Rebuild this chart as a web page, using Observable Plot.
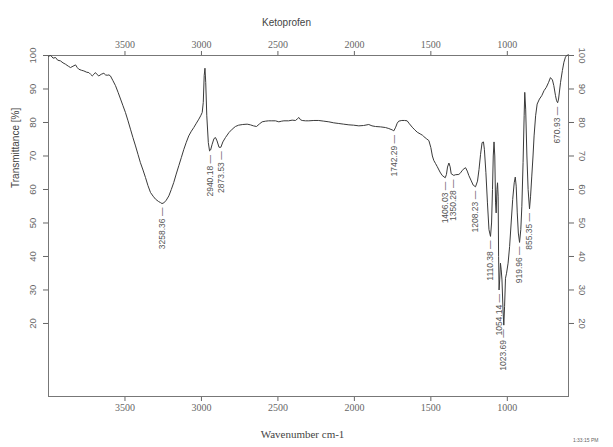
<!DOCTYPE html>
<html><head><meta charset="utf-8">
<script src="https://cdn.jsdelivr.net/npm/d3@7"></script>
<script src="https://cdn.jsdelivr.net/npm/@observablehq/plot@0.6"></script>
<style>body{margin:0;background:#fff} #chart{width:613px;height:447px}</style>
</head><body><div id="chart"></div>
<script>
const wavenumber = [4000,3985,3970,3954,3940,3922,3905,3889,3870,3856,3840,3823,3812,3802,3785,3769,3750,3736,3725,3714,3703,3693,3682,3671,3655,3638,3627,3616,3605,3595,3580,3562,3545,3529,3513,3497,3480,3464,3448,3431,3415,3399,3382,3366,3350,3333,3316,3300,3280,3268,3258,3246,3230,3213,3197,3181,3165,3148,3131,3115,3099,3083,3066,3050,3033,3017,3005,2995,2988,2982,2977,2972,2965,2955,2947,2940,2930,2918,2908,2898,2885,2873,2860,2843,2820,2799,2778,2757,2730,2701,2680,2660,2640,2620,2603,2580,2561,2540,2516,2494,2475,2461,2430,2407,2385,2370,2363,2352,2341,2320,2298,2265,2233,2200,2167,2135,2102,2070,2036,2005,1971,1940,1906,1885,1862,1830,1797,1775,1753,1742,1730,1720,1710,1690,1672,1655,1640,1622,1605,1589,1570,1555,1546,1530,1513,1500,1490,1481,1470,1459,1440,1426,1406,1398,1391,1382,1374,1367,1350,1340,1317,1305,1295,1283,1273,1262,1252,1238,1223,1208,1195,1185,1175,1165,1156,1150,1140,1130,1120,1110,1103,1097,1092,1087,1082,1077,1073,1068,1064,1060,1057,1054,1050,1045,1040,1035,1028,1023,1018,1012,1005,995,985,975,965,955,948,942,935,928,920,912,905,897,890,886,880,872,864,855,848,840,832,825,815,805,790,775,760,745,730,718,705,696,685,678,671,665,652,640,630,620,612,600];
const transmittance = [99.8,100,99.2,99.4,98.6,98.4,97.8,97.4,96.8,96.4,96.8,97.2,96.4,95.9,95.6,95.4,95.0,94.9,94.4,93.9,94.4,94.9,94.3,93.9,94.4,94.7,94.2,94.1,94.2,93.9,92.6,91,89,87,85,83,80.5,78,75.5,73,70.5,68,65.8,63.6,61.2,59.1,58,57.1,56.4,56.1,55.8,56.0,56.8,58.1,60,62.1,64.6,67.1,69.6,72,74.1,76,77.4,78.5,79.8,81,82,83,86,94,96.2,92,82,74,71.5,71.8,73.5,75.2,75.5,74.5,72.6,72.6,74.2,75.5,77,78,78.8,79.2,79.4,79.5,79.3,79,78.8,79.6,80.2,80.4,80.5,80.5,80.5,80.2,80.4,80.5,80.5,80.7,80.6,81.2,81.5,80.8,80.6,80.5,80.5,80.6,80.6,80.4,80.2,79.9,79.7,79.5,79.3,79.2,79.0,79.1,79.4,79.0,78.8,78.7,78.5,78.2,77.8,77.5,78.6,79.8,80.4,80.6,80.6,80.5,79.6,78.6,77.8,77.1,76.6,76.2,75.8,75.2,74.6,72.5,70,68.7,67.8,66.9,65.2,64.2,63.5,64.5,66.7,67.9,66.8,64.7,64.2,64.4,64.5,65,65.7,66.2,66.5,65.5,64.2,62.8,61.3,60.8,62.5,66,70.5,74,74.2,72,65,56,48,46,50,60,70,74.2,70,56,53,60,62,58,40,30,33,38,36,33,24,19.5,25,33.5,35,38,43,50,57,62,63.7,61,53,47,44.2,48,55,68,82,89,84,70,60,54.2,58,64,70,76,82,85.5,87,88,89.5,90.5,92,93.4,92.7,91,88,86.5,85.9,87,92,95.5,98,99.5,100,100.2];
const peakWavenumbers = [3258.36, 2940.18, 2873.53, 1742.29, 1406.03, 1350.28, 1208.23, 1110.38, 1054.14, 1023.69, 919.96, 855.35, 670.93];
const peakTransmittance = [55.8, 71.5, 72.6, 77.5, 63.5, 64.2, 60.8, 46, 30, 19.5, 44.2, 54.2, 85.9];
const xTicks = [3500, 3000, 2500, 2000, 1500, 1000];
const yTicks = [20, 30, 40, 50, 60, 70, 80, 90, 100];

const spectrum = wavenumber.map((w, i) => ({w, t: transmittance[i]}));
const peaks = peakWavenumbers.map((w, i) => ({w, t: peakTransmittance[i], label: w.toFixed(2) + " \u2014"}));

const sans = "'Liberation Sans', Arial, sans-serif";
const serif = "'Liberation Serif', 'Times New Roman', serif";
const plain = d => String(d);

const chart = Plot.plot({
  width: 613, height: 447,
  marginLeft: 48, marginRight: 45, marginTop: 55, marginBottom: 51,
  x: {domain: [4000, 600]},
  y: {domain: [-1.8, 100]},
  style: {fontFamily: sans, background: "#fff", color: "#444"},
  marks: [
    Plot.axisX({anchor: "top", ticks: xTicks, tickFormat: plain, tickSize: 5, tickPadding: 3, label: null, fontFamily: serif, fontSize: 10, color: "#666"}),
    Plot.axisX({anchor: "bottom", ticks: xTicks, tickFormat: plain, tickSize: 5, tickPadding: 2, label: null, fontFamily: serif, fontSize: 10, color: "#666"}),
    Plot.axisY({anchor: "left", ticks: yTicks, tickFormat: plain, tickSize: 5, tickPadding: 11, tickRotate: -90, textAnchor: "middle", lineAnchor: "middle", label: null, fontSize: 9.5, color: "#666"}),
    Plot.axisY({anchor: "right", ticks: yTicks, tickFormat: plain, tickSize: 5, tickPadding: 9, tickRotate: 90, textAnchor: "middle", lineAnchor: "middle", label: null, fontSize: 9.5, color: "#666"}),
    Plot.frame({stroke: "#777"}),
    Plot.line(spectrum, {x: "w", y: "t", stroke: "#3a3a3a", strokeWidth: 1}),
    Plot.text(peaks, {x: "w", y: "t", text: "label", rotate: -90, textAnchor: "end", lineAnchor: "middle", dy: 4, fontSize: 8.5, fill: "#555"}),
    Plot.text(["Ketoprofen"], {text: d => d, frameAnchor: "top", dx: -22, dy: -37, fontSize: 10, fill: "#444"}),
    Plot.text(["Transmittance [%]"], {text: d => d, frameAnchor: "left", rotate: -90, dx: -33, dy: -38, fontSize: 10, fill: "#444"}),
    Plot.text(["Wavenumber cm-1"], {text: d => d, frameAnchor: "bottom", dx: -6, dy: 41, fontSize: 11, fontFamily: serif, fill: "#444"}),
    Plot.text(["1:33:15 PM"], {text: d => d, frameAnchor: "bottom-right", dx: 30, dy: 45, textAnchor: "end", fontSize: 5, fill: "#666"})
  ]
});
document.getElementById("chart").appendChild(chart);
</script>
</body></html>
